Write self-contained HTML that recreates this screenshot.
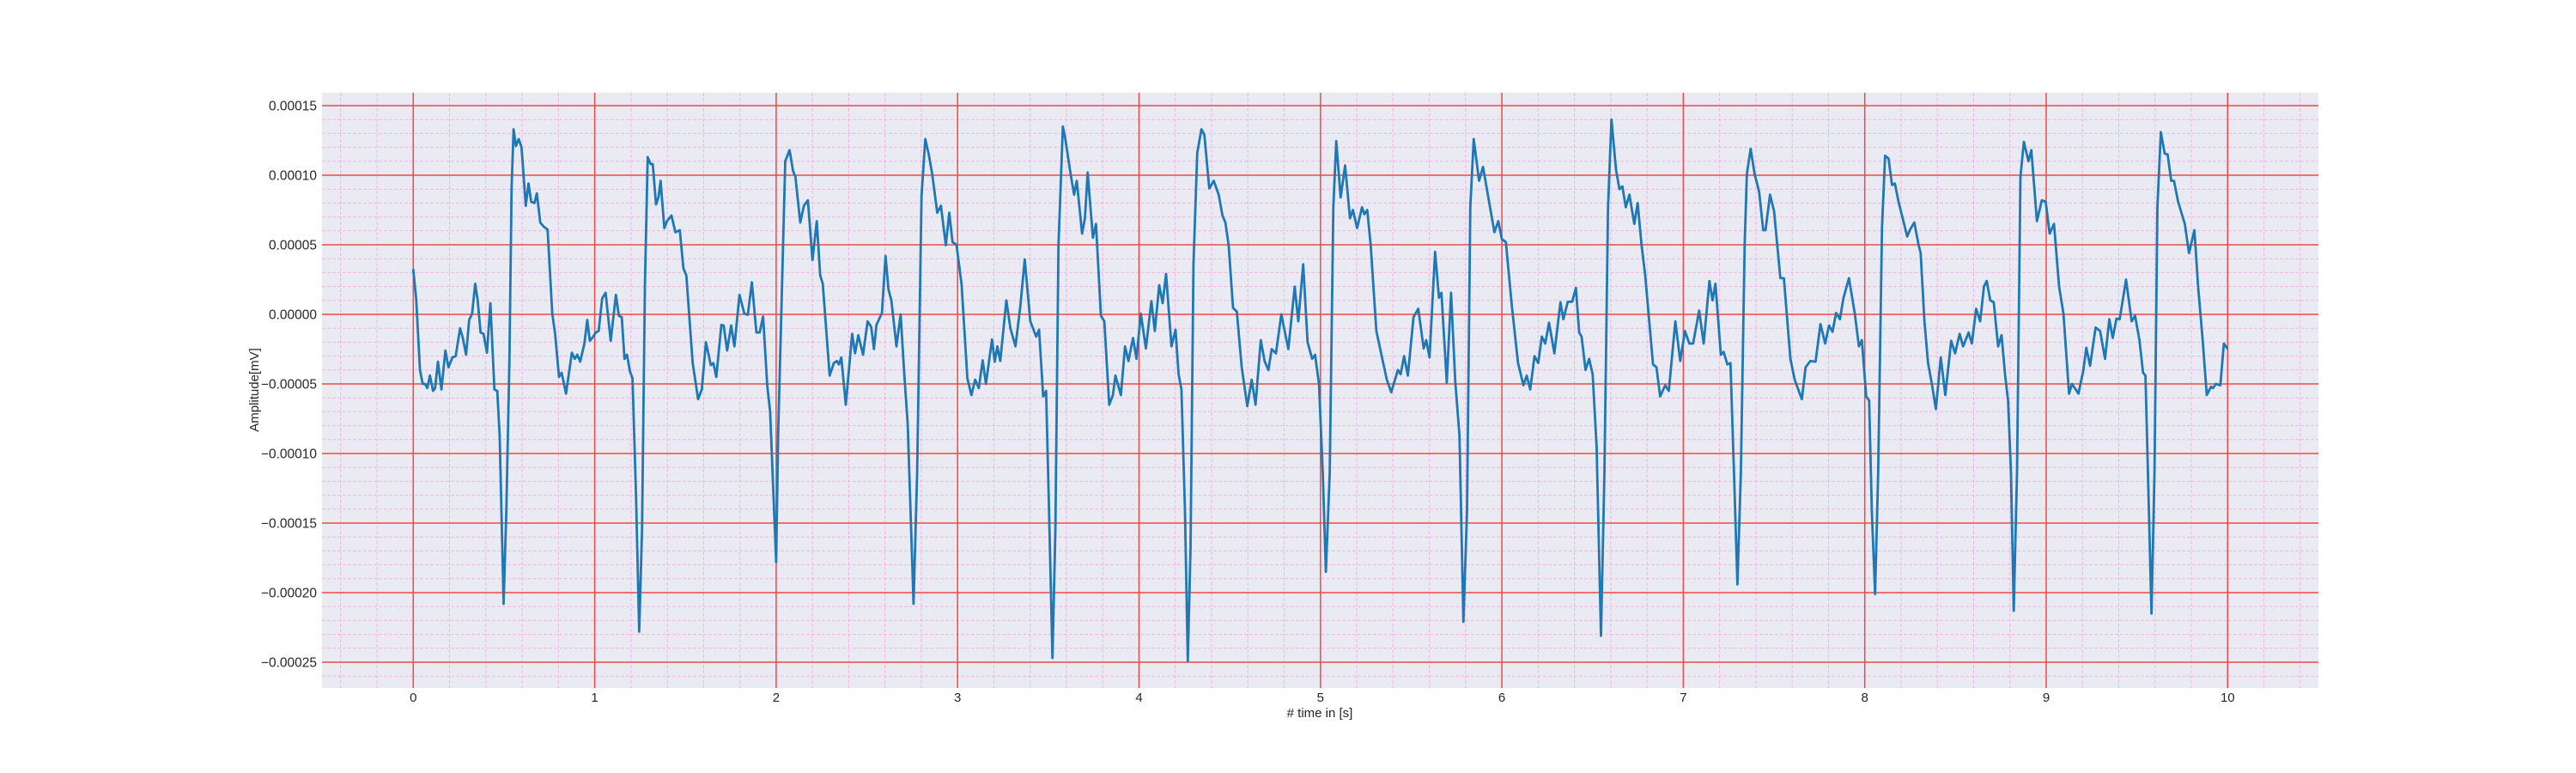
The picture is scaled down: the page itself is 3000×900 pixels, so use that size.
<!DOCTYPE html>
<html><head><meta charset="utf-8">
<style>
html,body{margin:0;padding:0;background:#fff;}
svg{display:block;font-family:"Liberation Sans",Arial,sans-serif;}
</style></head>
<body>
<svg id="chart" width="3000" height="900" viewBox="0 0 3000 900" xmlns="http://www.w3.org/2000/svg">
<rect x="375" y="108" width="2325" height="693" fill="#eaeaf2"/>
<g id="minor"></g>
<g id="major"></g>
<g id="series"></g>
<g id="yt"></g>
<g id="xt"></g>
<text x="1537" y="835" font-size="15" fill="#262626" text-anchor="middle"># time in [s]</text>
<text x="0" y="0" font-size="15" fill="#262626" text-anchor="middle" transform="translate(301,454) rotate(-90)">Amplitude[mV]</text>
</svg>
<script>
// data: time (s) and amplitude (units of 1e-5 mV)
const times = [0,0.016,0.037,0.052,0.065,0.077,0.092,0.109,0.12,0.136,0.155,0.177,0.194,0.216,0.234,0.258,0.273,0.291,0.308,0.324,0.341,0.355,0.371,0.387,0.406,0.425,0.447,0.463,0.476,0.498,0.513,0.53,0.542,0.553,0.566,0.581,0.597,0.62,0.635,0.65,0.668,0.681,0.7,0.719,0.74,0.766,0.782,0.803,0.818,0.842,0.874,0.89,0.904,0.92,0.943,0.959,0.973,0.992,1.006,1.022,1.041,1.06,1.088,1.117,1.133,1.149,1.164,1.178,1.194,1.208,1.227,1.245,1.261,1.277,1.292,1.308,1.32,1.338,1.351,1.363,1.384,1.398,1.423,1.445,1.469,1.489,1.505,1.54,1.57,1.59,1.613,1.64,1.654,1.67,1.698,1.711,1.73,1.752,1.77,1.798,1.825,1.844,1.866,1.891,1.909,1.928,1.951,1.967,2.0,2.011,2.05,2.074,2.093,2.106,2.133,2.153,2.175,2.2,2.224,2.243,2.257,2.295,2.318,2.335,2.346,2.359,2.384,2.419,2.435,2.453,2.479,2.504,2.524,2.539,2.553,2.583,2.603,2.619,2.635,2.663,2.686,2.706,2.725,2.757,2.777,2.801,2.822,2.841,2.86,2.888,2.908,2.935,2.954,2.972,2.994,3.022,3.054,3.076,3.097,3.117,3.138,3.156,3.19,3.205,3.219,3.235,3.269,3.291,3.319,3.346,3.37,3.401,3.433,3.449,3.472,3.488,3.504,3.523,3.539,3.556,3.58,3.594,3.623,3.642,3.657,3.686,3.702,3.717,3.746,3.763,3.79,3.809,3.836,3.856,3.87,3.9,3.923,3.942,3.967,3.986,4.01,4.038,4.068,4.087,4.111,4.13,4.149,4.179,4.201,4.218,4.234,4.253,4.269,4.284,4.3,4.321,4.344,4.36,4.387,4.412,4.439,4.46,4.476,4.494,4.518,4.539,4.566,4.597,4.621,4.642,4.671,4.692,4.713,4.731,4.755,4.784,4.823,4.858,4.878,4.905,4.929,4.954,4.97,4.992,5.013,5.03,5.051,5.071,5.087,5.111,5.136,5.163,5.179,5.202,5.229,5.242,5.258,5.277,5.308,5.336,5.366,5.39,5.427,5.442,5.461,5.482,5.513,5.539,5.569,5.583,5.601,5.632,5.653,5.667,5.696,5.72,5.743,5.766,5.788,5.808,5.826,5.845,5.874,5.896,5.924,5.959,5.98,6.0,6.022,6.055,6.089,6.119,6.137,6.156,6.18,6.2,6.22,6.239,6.26,6.289,6.323,6.339,6.363,6.387,6.408,6.426,6.439,6.461,6.481,6.5,6.522,6.546,6.565,6.585,6.604,6.629,6.648,6.664,6.683,6.703,6.73,6.748,6.77,6.79,6.833,6.852,6.872,6.9,6.92,6.956,6.983,7.009,7.033,7.054,7.087,7.112,7.144,7.161,7.177,7.207,7.222,7.243,7.26,7.279,7.298,7.317,7.338,7.35,7.371,7.393,7.418,7.44,7.453,7.478,7.5,7.535,7.554,7.59,7.614,7.653,7.674,7.7,7.729,7.756,7.782,7.803,7.822,7.842,7.863,7.882,7.913,7.945,7.968,7.984,8.008,8.024,8.039,8.057,8.074,8.095,8.112,8.131,8.15,8.166,8.186,8.213,8.234,8.25,8.273,8.297,8.308,8.329,8.349,8.371,8.392,8.419,8.444,8.476,8.498,8.523,8.542,8.572,8.59,8.614,8.636,8.657,8.672,8.692,8.711,8.735,8.754,8.774,8.79,8.806,8.821,8.839,8.858,8.877,8.902,8.918,8.949,8.976,8.997,9.019,9.043,9.071,9.095,9.126,9.142,9.178,9.205,9.221,9.242,9.272,9.297,9.324,9.348,9.367,9.387,9.405,9.44,9.471,9.49,9.514,9.534,9.547,9.561,9.58,9.597,9.613,9.632,9.653,9.669,9.689,9.704,9.727,9.764,9.787,9.817,9.837,9.861,9.885,9.908,9.919,9.935,9.96,9.979,9.998];
const amplitudes = [3.2,1.1,-4.0,-5.0,-5.0,-5.3,-4.4,-5.5,-5.3,-3.4,-5.4,-2.6,-3.8,-3.1,-3.0,-1.0,-1.7,-2.9,-0.4,0.05,2.2,1.0,-1.3,-1.4,-2.75,0.8,-5.4,-5.5,-8.7,-20.8,-14.1,-3.2,9.05,13.3,12.1,12.6,12.0,7.8,9.4,8.1,8.0,8.7,6.6,6.3,6.1,0.05,-1.4,-4.5,-4.2,-5.7,-2.75,-3.2,-2.9,-3.4,-2.1,-0.4,-1.9,-1.6,-1.3,-1.2,1.15,1.55,-1.9,1.4,-0.1,-0.2,-3.2,-2.9,-4.1,-4.6,-12.75,-22.8,-15.5,2.2,11.3,10.8,10.8,7.9,8.4,9.6,6.2,6.7,7.1,5.9,6.05,3.3,2.8,-3.5,-6.1,-5.4,-2.0,-3.65,-3.5,-4.5,-0.76,-0.8,-2.6,-0.8,-2.3,1.4,0.05,-0.03,2.3,-1.3,-1.3,-0.16,-5.1,-7.0,-17.8,-8.7,11.0,11.8,10.3,9.9,6.6,7.8,8.2,3.9,6.7,2.8,2.2,-4.4,-3.5,-3.35,-3.6,-3.1,-6.5,-1.4,-2.8,-1.5,-2.9,-0.5,-0.9,-2.5,-0.76,0.1,4.2,1.8,1.0,-2.3,0.0,-4.3,-7.85,-20.8,-11.4,8.5,12.6,11.5,10.1,7.3,7.8,4.96,7.3,5.2,5.0,2.2,-4.6,-5.8,-4.7,-5.3,-3.3,-5.0,-1.8,-3.4,-2.3,-3.35,1.0,-1.0,-2.3,0.6,3.95,-0.5,-1.6,-1.1,-5.9,-5.5,-14.1,-24.7,-15.5,4.96,13.5,12.6,10.1,8.6,9.6,5.8,6.9,10.2,5.5,6.5,-0.1,-0.5,-6.5,-5.8,-4.4,-5.8,-2.3,-3.35,-1.7,-3.2,0.05,-2.45,0.95,-1.2,2.1,0.8,2.9,-2.3,-1.1,-4.3,-5.4,-14.1,-24.9,-16.8,3.6,11.6,13.3,12.9,9.05,9.6,8.6,7.1,6.6,4.96,0.46,0.2,-3.8,-6.6,-4.7,-6.5,-1.85,-3.35,-4.0,-2.5,-2.8,0.0,-2.5,2.0,-0.5,3.6,-2.0,-3.2,-2.9,-5.0,-11.4,-18.5,-11.4,7.7,12.45,8.4,10.7,6.9,7.5,6.2,7.7,7.2,7.5,4.96,-1.2,-2.9,-4.7,-5.6,-4.0,-4.3,-3.0,-4.4,-0.2,0.4,-2.45,-1.85,-3.1,4.5,1.2,1.55,-4.9,1.55,-4.85,-8.7,-22.1,-14.1,7.7,12.6,9.6,10.6,8.5,5.9,6.7,5.4,5.2,0.6,-3.5,-5.1,-4.4,-5.4,-3.0,-3.5,-1.6,-2.1,-0.6,-2.8,0.87,-0.35,0.9,0.9,1.9,-1.3,-1.6,-4.0,-3.2,-4.3,-9.5,-23.1,-11.4,7.7,14.0,10.4,9.0,9.2,7.7,8.6,6.5,8.0,4.96,2.8,-3.6,-3.8,-5.9,-5.1,-5.5,-0.5,-3.35,-1.2,-2.1,-2.1,0.27,-2.1,2.4,1.0,2.2,-2.9,-2.7,-3.6,-3.5,-11.4,-19.4,-11.4,4.96,10.1,11.9,10.1,8.8,6.05,6.05,8.6,7.4,2.6,2.6,-3.2,-4.7,-6.1,-3.8,-3.35,-3.4,-0.7,-2.1,-0.8,-1.25,0.1,-0.35,1.15,2.6,0.05,-2.3,-1.85,-5.9,-6.2,-14.1,-20.1,-11.4,6.3,11.4,11.2,9.3,9.4,8.1,6.7,5.6,6.1,6.6,4.96,4.4,-0.5,-3.5,-5.1,-6.8,-3.1,-5.8,-1.9,-2.8,-1.4,-2.3,-1.3,-2.1,0.4,-0.5,2.0,2.4,1.0,0.87,-2.3,-1.5,-4.4,-6.2,-11.4,-21.3,-11.4,9.9,12.4,11.0,11.8,6.7,8.2,8.1,5.8,6.5,2.0,0.05,-5.7,-5.0,-5.7,-4.0,-2.4,-3.7,-0.95,-1.2,-3.2,-0.35,-1.7,-0.3,-0.35,2.5,-0.5,-0.1,-1.85,-4.2,-4.4,-11.4,-21.5,-11.4,7.7,13.1,11.55,11.5,9.6,9.6,8.1,6.5,4.4,6.05,2.0,-1.6,-5.8,-5.2,-5.3,-5.0,-5.1,-2.1,-2.45];
const xTicks = [0,1,2,3,4,5,6,7,8,9,10];
const yTickValues = [15,10,5,0,-5,-10,-15,-20,-25];
const yTickLabels = ["0.00015","0.00010","0.00005","0.00000","\u22120.00005","\u22120.00010","\u22120.00015","\u22120.00020","\u22120.00025"];

const NS = "http://www.w3.org/2000/svg";
const PL = 375, PR = 2700, PT = 108, PB = 801;
function xs(t){ return 481.3 + t * 211.3; }
function ys(v){ return 366 - v * 16.2; }
function mk(tag, attrs, parent){
  const e = document.createElementNS(NS, tag);
  for (const k in attrs) e.setAttribute(k, attrs[k]);
  parent.appendChild(e);
  return e;
}
const minor = document.getElementById('minor');
for (let i = -2; i <= 52; i++) {
  const t = i * 0.2;
  if (i % 5 === 0) continue;
  const x = xs(t);
  if (x < PL || x > PR) continue;
  const l = mk('line', {x1:x, x2:x, y1:PT, y2:PB, stroke:'#f2a9e2', 'stroke-width':1, 'stroke-opacity':0.8, 'stroke-dasharray':'4,2'}, minor);
  
  
}
for (let v = -26; v <= 15; v++) {
  if (v % 5 === 0) continue;
  const y = ys(v);
  const l = mk('line', {x1:PL, x2:PR, y1:y, y2:y, stroke:'#f2a9e2', 'stroke-width':1, 'stroke-opacity':0.8, 'stroke-dasharray':'4,2'}, minor);
  
  
}
const major = document.getElementById('major');
const xt = document.getElementById('xt');
xTicks.forEach(t => {
  const x = xs(t);
  const l = mk('line', {x1:x, x2:x, y1:PT, y2:PB, stroke:'#f04848', 'stroke-width':1.5}, major);
  
  
  const tx = mk('text', {x:x, y:817, 'font-size':15, fill:'#262626', 'text-anchor':'middle'}, xt);
  tx.textContent = String(t);
  
  
});
const yt = document.getElementById('yt');
yTickValues.forEach((v, i) => {
  const y = ys(v);
  const l = mk('line', {x1:PL, x2:PR, y1:y, y2:y, stroke:'#f04848', 'stroke-width':1.5}, major);
  
  
  const tx = mk('text', {x:369, y:y + 5.5, 'font-size':15.5, fill:'#262626', 'text-anchor':'end'}, yt);
  tx.textContent = yTickLabels[i];
  
  
});
const series = document.getElementById('series');
const pts = times.map((t, i) => xs(t).toFixed(1) + ',' + ys(amplitudes[i]).toFixed(1)).join(' ');
const pl = mk('polyline', {points:pts, fill:'none', stroke:'#1f77b4', 'stroke-width':2.8, 'stroke-linejoin':'round', 'stroke-linecap':'round'}, series);


</script>
</body></html>
